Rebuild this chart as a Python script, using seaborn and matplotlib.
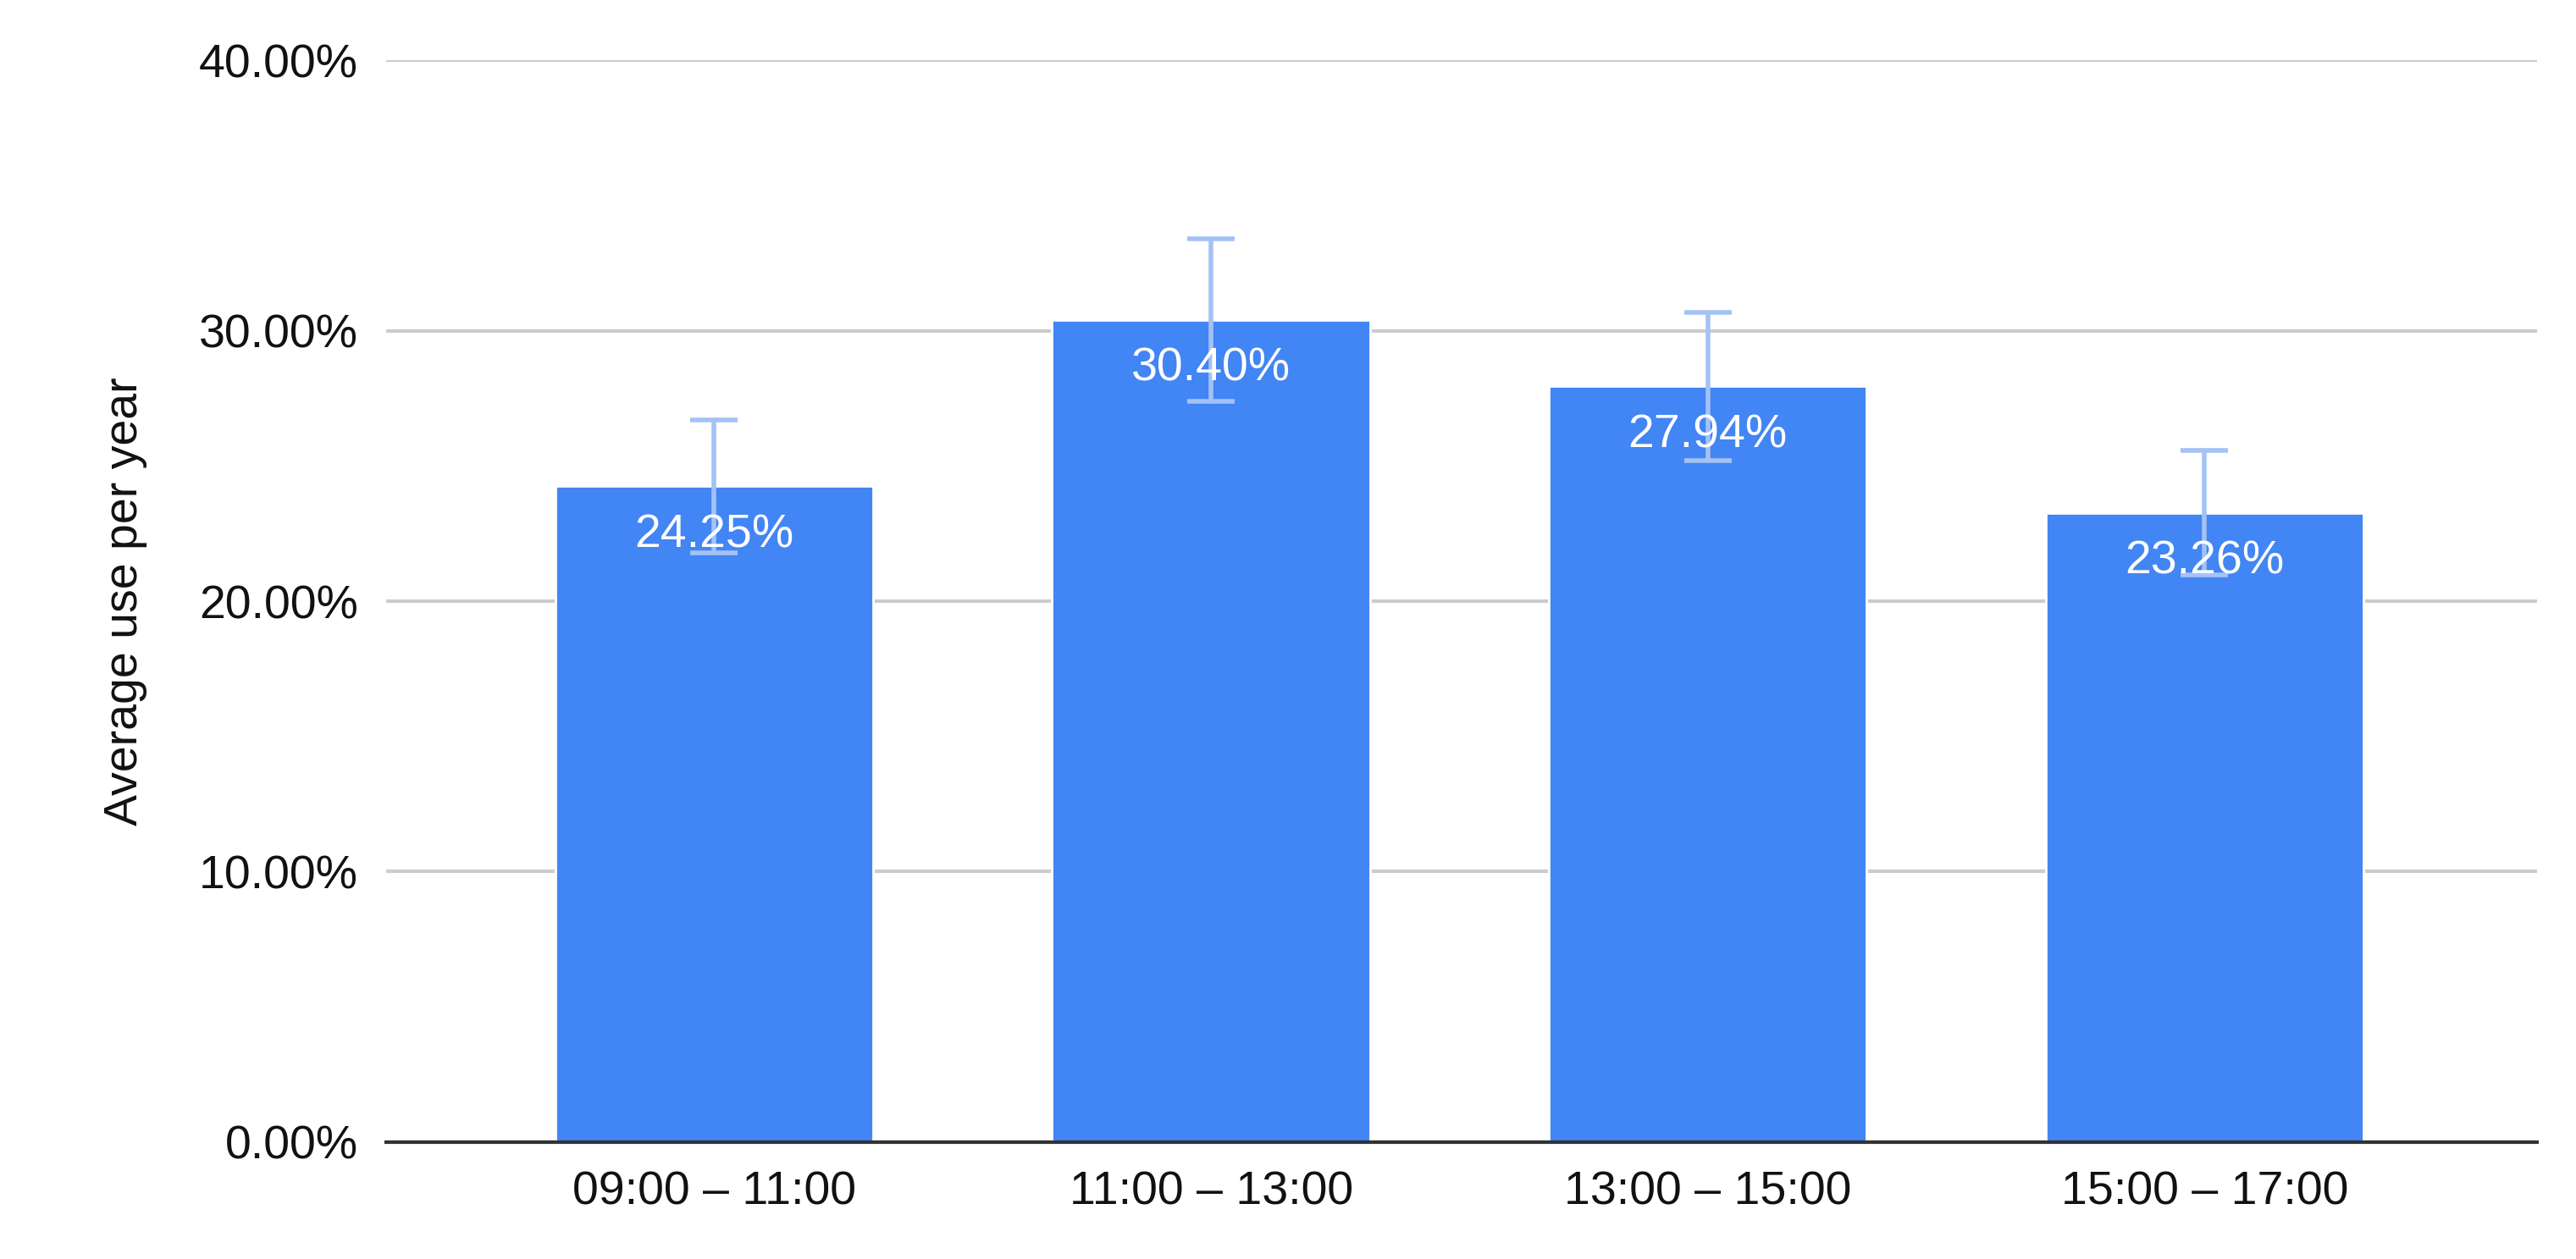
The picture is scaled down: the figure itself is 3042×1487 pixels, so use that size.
import matplotlib
matplotlib.use("Agg")
import matplotlib.pyplot as plt
import seaborn as sns
import pandas as pd
from matplotlib.ticker import FuncFormatter

# data
slots = ["09:00 – 11:00", "11:00 – 13:00", "13:00 – 15:00", "15:00 – 17:00"]
avg_use = [24.25, 30.40, 27.94, 23.26]
err = [2.45, 3.0, 2.75, 2.3]

sns.set_style("white")
plt.rcParams['font.family'] = ['Liberation Sans', 'DejaVu Sans']

df = pd.DataFrame({"slot": slots, "use": avg_use})

fig = plt.figure(figsize=(15.21, 7.435), dpi=200)
ax = fig.add_axes([0.15, 0.093, 0.835, 0.859])
sns.barplot(data=df, x="slot", y="use", color="#4285F4", saturation=1,
            width=0.64, ax=ax, errorbar=None)
ax.errorbar(range(len(slots)), avg_use, yerr=err, fmt="none",
            ecolor="#A4C2F4", elinewidth=2, capsize=10, capthick=2, zorder=3)
for i, v in enumerate(avg_use):
    ax.text(i, v - 1.0, f"{v:.2f}%", ha="center", va="top", color="white",
            fontsize=20, zorder=4)

ax.set_ylim(0, 40)
ax.set_yticks([0, 10, 20, 30, 40])
ax.yaxis.set_major_formatter(FuncFormatter(lambda v, p: f"{v:.2f}%"))
ax.yaxis.grid(True, color="#cccccc", linewidth=1.5)
ax.set_axisbelow(True)
for s in ["top", "right", "left"]:
    ax.spines[s].set_visible(False)
ax.spines["bottom"].set_color("#333333")
ax.spines["bottom"].set_linewidth(1.5)
ax.tick_params(axis="both", labelsize=20, length=0, pad=12, labelcolor="#111111")
ax.set_xlabel("")
ax.set_ylabel("Average use per year", fontsize=20, labelpad=22, color="#111111")
ax.set_xlim(-0.66, 3.67)

fig.savefig("out.png", dpi=200)
